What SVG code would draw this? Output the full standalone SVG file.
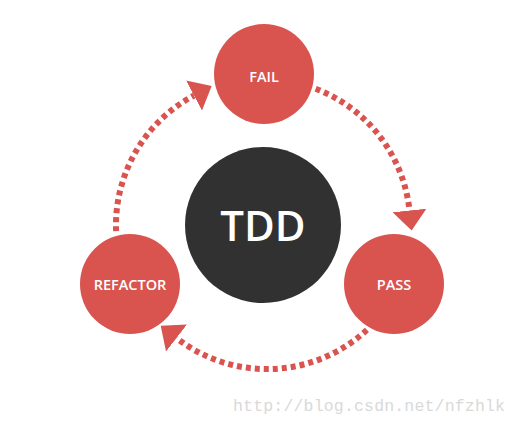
<svg xmlns="http://www.w3.org/2000/svg" width="516" height="422" viewBox="0 0 516 422">
<style>
.node{fill:#d9534f}
.core{fill:#313131}
.lbl{font-family:"Open Sans","Liberation Sans",sans-serif;font-weight:600;fill:#fff;text-anchor:middle}
.arc{fill:none;stroke:#d9534f;stroke-width:6;stroke-dasharray:5 4}
.wm{font-family:"Liberation Mono",monospace;fill:#d9d9d9;font-size:16.5px}
</style>
<defs>
<marker id="ah" markerUnits="userSpaceOnUse" viewBox="0 -18 22 36" markerWidth="22" markerHeight="36" refX="0" refY="0" orient="auto">
<path d="M0,-17 L20,0 L0,17 Z" fill="#d9534f"/>
</marker>
</defs>
<rect width="516" height="422" fill="#fff"/>
<g id="connectors">
<path class="arc" d="M116.09,231.13 A147,147 0 0 1 194,95.5" marker-end="url(#ah)"/>
<path class="arc" d="M315.68,88.76 A147,147 0 0 1 409.5,210.5" marker-end="url(#ah)"/>
<path class="arc" d="M366.9,329.9 A147,147 0 0 1 176.5,338" marker-end="url(#ah)"/>
</g>
<g id="tdd">
<circle class="core" cx="263" cy="225" r="78"/>
<text class="lbl" x="263" y="241" font-size="42">TDD</text>
</g>
<g id="fail">
<circle class="node" cx="264" cy="74" r="50"/>
<text class="lbl" x="264" y="82" font-size="14.5">FAIL</text>
</g>
<g id="refactor">
<circle class="node" cx="130" cy="284" r="50"/>
<text class="lbl" x="130" y="290" font-size="14.5">REFACTOR</text>
</g>
<g id="pass">
<circle class="node" cx="394" cy="284" r="50"/>
<text class="lbl" x="394" y="290" font-size="14.5">PASS</text>
</g>
<text class="wm" x="233" y="411" textLength="272">http://blog.csdn.net/nfzhlk</text>
</svg>
